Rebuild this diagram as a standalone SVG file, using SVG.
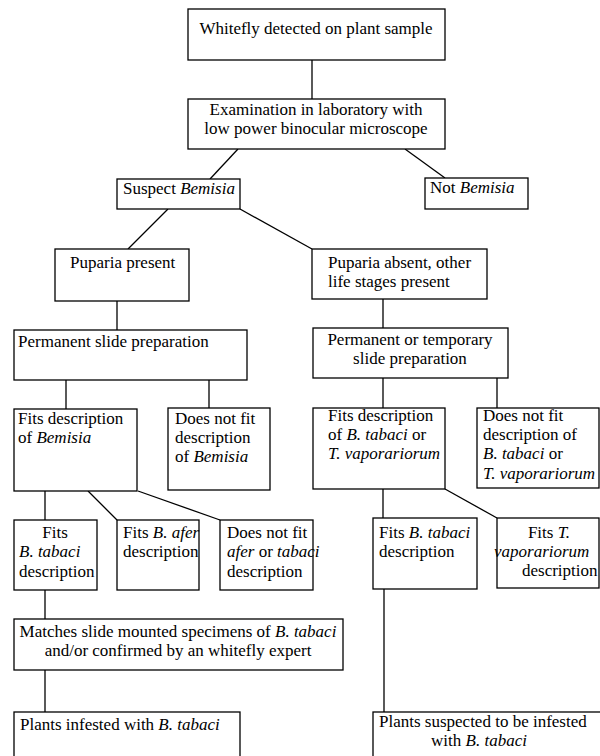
<svg xmlns="http://www.w3.org/2000/svg" width="600" height="756" viewBox="0 0 600 756">
<style>
rect{fill:#fff;stroke:#000;stroke-width:1.3}
line{stroke:#000;stroke-width:1.3}
text{font-family:"Liberation Serif","Times New Roman",serif;font-size:17px;fill:#000}
.m{text-anchor:middle}
tspan.i{font-style:italic}
</style>
<rect x="0" y="0" width="600" height="756" style="stroke:none"/>
<g id="connectors">
<line x1="312" y1="60" x2="312" y2="99"/>
<line x1="238" y1="149" x2="210" y2="179"/>
<line x1="405" y1="149" x2="445" y2="178"/>
<line x1="168" y1="209" x2="128" y2="249"/>
<line x1="240" y1="209" x2="312" y2="249"/>
<line x1="117" y1="301" x2="117" y2="330"/>
<line x1="383" y1="299" x2="383" y2="328"/>
<line x1="66" y1="380" x2="66" y2="409"/>
<line x1="209" y1="380" x2="209" y2="408"/>
<line x1="383" y1="378" x2="383" y2="408"/>
<line x1="497" y1="378" x2="497" y2="408"/>
<line x1="45" y1="491" x2="45" y2="520"/>
<line x1="88" y1="491" x2="117" y2="520"/>
<line x1="138" y1="491" x2="220" y2="520"/>
<line x1="383" y1="489" x2="383" y2="518"/>
<line x1="445" y1="489" x2="497" y2="518"/>
<line x1="45" y1="590" x2="45" y2="619"/>
<line x1="45" y1="670" x2="45" y2="712"/>
<line x1="384" y1="589" x2="384" y2="712"/>
</g>
<g id="n1"><rect x="188" y="9" width="257" height="51"/><text class="m" x="316" y="34">Whitefly detected on plant sample</text></g>
<g id="n2"><rect x="188" y="99" width="257" height="50"/><text class="m" x="316" y="115">Examination in laboratory with</text><text class="m" x="316" y="134">low power binocular microscope</text></g>
<g id="n3"><rect x="117" y="179" width="123" height="30"/><text x="123" y="194">Suspect <tspan class="i">Bemisia</tspan></text></g>
<g id="n4"><rect x="425" y="178" width="103" height="31"/><text x="430" y="193">Not <tspan class="i">Bemisia</tspan></text></g>
<g id="n5"><rect x="55" y="249" width="134" height="52"/><text x="70" y="268">Puparia present</text></g>
<g id="n6"><rect x="312" y="249" width="175" height="50"/><text x="328" y="268">Puparia absent, other</text><text x="328" y="287">life stages present</text></g>
<g id="n7"><rect x="14" y="330" width="233" height="50"/><text x="18" y="347">Permanent slide preparation</text></g>
<g id="n8"><rect x="313" y="328" width="195" height="50"/><text class="m" x="410" y="345">Permanent or temporary</text><text class="m" x="410" y="364">slide preparation</text></g>
<g id="n9"><rect x="14" y="409" width="123" height="82"/><text x="18" y="424">Fits description</text><text x="18" y="443">of <tspan class="i">Bemisia</tspan></text></g>
<g id="n10"><rect x="168" y="408" width="102" height="82"/><text x="175" y="424">Does not fit</text><text x="175" y="443">description</text><text x="175" y="462">of <tspan class="i">Bemisia</tspan></text></g>
<g id="n11"><rect x="313" y="408" width="132" height="81"/><text x="328" y="421">Fits description</text><text x="328" y="440">of <tspan class="i">B. tabaci</tspan> or</text><text x="328" y="459"><tspan class="i">T. vaporariorum</tspan></text></g>
<g id="n12"><rect x="477" y="408" width="122" height="80"/><text x="483" y="421">Does not fit</text><text x="483" y="440">description of</text><text x="483" y="459"><tspan class="i">B. tabaci</tspan> or</text><text x="483" y="479"><tspan class="i">T. vaporariorum</tspan></text></g>
<g id="n13"><rect x="14" y="520" width="83" height="70"/><text class="m" x="55" y="538">Fits</text><text x="19" y="557"><tspan class="i">B. tabaci</tspan></text><text x="19" y="577">description</text></g>
<g id="n14"><rect x="117" y="520" width="82" height="70"/><text x="123" y="538">Fits <tspan class="i">B. afer</tspan></text><text x="123" y="557">description</text></g>
<g id="n15"><rect x="220" y="520" width="93" height="70"/><text x="227" y="538">Does not fit</text><text x="227" y="557"><tspan class="i">afer</tspan> or <tspan class="i">tabaci</tspan></text><text x="227" y="577">description</text></g>
<g id="n16"><rect x="14" y="619" width="329" height="51"/><text class="m" x="178" y="637">Matches slide mounted specimens of <tspan class="i">B. tabaci</tspan></text><text class="m" x="178" y="656">and/or confirmed by an whitefly expert</text></g>
<g id="n17"><rect x="14" y="712" width="226" height="60"/><text x="20" y="730">Plants infested with <tspan class="i">B. tabaci</tspan></text></g>
<g id="n18"><rect x="373" y="518" width="104" height="71"/><text x="379" y="538">Fits <tspan class="i">B. tabaci</tspan></text><text x="379" y="557">description</text></g>
<g id="n19"><rect x="497" y="518" width="102" height="70"/><text class="m" x="549" y="538">Fits <tspan class="i">T.</tspan></text><text x="494" y="557"><tspan class="i">vaporariorum</tspan></text><text x="522" y="576">description</text></g>
<g id="n20"><rect x="373" y="712" width="232" height="60"/><text x="379" y="727">Plants suspected to be infested</text><text class="m" x="479" y="746">with <tspan class="i">B. tabaci</tspan></text></g>
</svg>
